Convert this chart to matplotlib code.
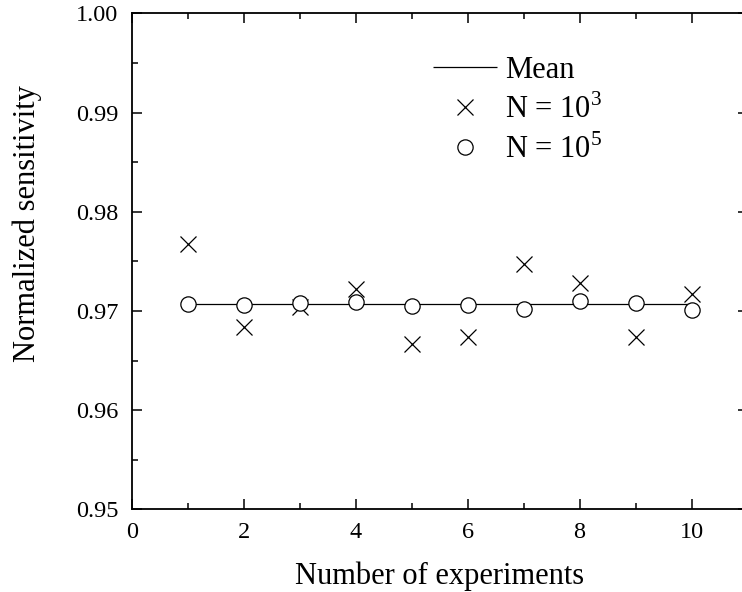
import numpy as np
import matplotlib
matplotlib.use("Agg")
import matplotlib.pyplot as plt
from matplotlib.ticker import MultipleLocator

plt.rcParams["font.family"] = ["Liberation Serif", "DejaVu Serif"]
plt.rcParams["mathtext.fontset"] = "custom"
plt.rcParams["mathtext.rm"] = "Liberation Serif"

# values
experiments = np.arange(1, 11)
sens_n1e3 = [0.97677, 0.96840, 0.97040, 0.97224, 0.96667,
             0.96740, 0.97472, 0.97280, 0.96734, 0.97174]
sens_n1e5 = [0.97074, 0.97060, 0.97084, 0.97090, 0.97047,
             0.97060, 0.97024, 0.97100, 0.97084, 0.97014]
mean_sens = 0.97074

fig = plt.figure(figsize=(7.42, 5.92), dpi=100)
ax = fig.add_axes([0.1775, 0.1397, 0.830, 0.8378])

ax.hlines(mean_sens, experiments[0], experiments[-1], color="black",
          linewidth=0.9, label="Mean")
ax.plot(experiments, sens_n1e3, linestyle="none", marker="x", markersize=12,
        markeredgewidth=0.9, color="black", label=r"N = 10$^{3}$")
ax.plot(experiments, sens_n1e5, linestyle="none", marker="o", markersize=11,
        markeredgewidth=0.9, markerfacecolor="white", markeredgecolor="black",
        label=r"N = 10$^{5}$")

ax.set_xlim(0, 11)
ax.set_ylim(0.95, 1.00)
ax.xaxis.set_major_locator(MultipleLocator(2))
ax.xaxis.set_minor_locator(MultipleLocator(1))
ax.yaxis.set_major_locator(MultipleLocator(0.01))
ax.yaxis.set_minor_locator(MultipleLocator(0.005))
ax.set_yticklabels([f"{v:.2f}" for v in ax.get_yticks()])

ax.tick_params(which="both", direction="in", top=True, right=True,
               width=1.1, labelsize=17.5)
ax.tick_params(which="major", length=7)
ax.tick_params(which="minor", length=4)
ax.tick_params(axis="x", which="major", pad=9)
ax.tick_params(axis="y", which="major", pad=9.5)
for sp in ax.spines.values():
    sp.set_linewidth(1.3)

ax.set_xlabel("Number of experiments", fontsize=22)
ax.set_ylabel("Normalized sensitivity", fontsize=22)
ax.xaxis.set_label_coords(0.5005, -0.106)
ax.yaxis.set_label_coords(-0.146, 0.577)

ax.legend(loc="upper left", bbox_to_anchor=(0.5633, 0.931),
          bbox_transform=fig.transFigure, frameon=False, fontsize=22,
          borderpad=0, handlelength=2.1, handletextpad=0.26, labelspacing=0.3)

fig.savefig("out.png", dpi=100)
